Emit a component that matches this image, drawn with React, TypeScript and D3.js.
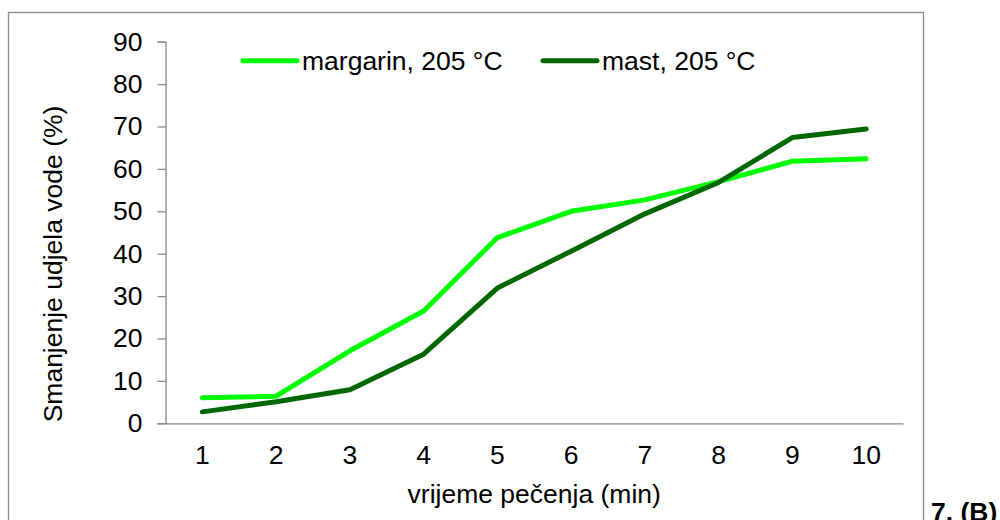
import React, { useEffect, useRef } from 'react';
import * as d3 from 'd3';

const minutes = ['1', '2', '3', '4', '5', '6', '7', '8', '9', '10'];
const margarin = [6.0, 6.4, 17.1, 26.5, 43.8, 50.0, 52.7, 57.0, 61.8, 62.4];
const mast = [2.7, 5.1, 7.9, 16.3, 31.9, 40.6, 49.4, 56.8, 67.4, 69.4];
const yTicks = [0, 10, 20, 30, 40, 50, 60, 70, 80, 90];

const series = [
  { name: 'margarin, 205 °C', values: margarin, color: '#00ff00' },
  { name: 'mast, 205 °C', values: mast, color: '#006600' },
];

const App: React.FC = () => {
  const svgRef = useRef<SVGSVGElement>(null);

  useEffect(() => {
    const svg = d3.select(svgRef.current);
    svg.selectAll('*').remove();

    const font = 'Arial, "Liberation Sans", sans-serif';
    const fs = '26.5px';
    const margin = { left: 165.5, right: 903, top: 41.7, bottom: 423.3 };

    // outer frame
    svg.append('rect')
      .attr('x', 8.5).attr('y', 12.5)
      .attr('width', 915).attr('height', 520)
      .attr('fill', 'none').attr('stroke', '#888').attr('stroke-width', 1.3);

    const x = d3.scaleBand().domain(minutes).range([margin.left, margin.right]);
    const y = d3.scaleLinear().domain([0, 90]).range([margin.bottom, margin.top]);

    // Y axis
    const yAxis = svg.append('g')
      .attr('transform', `translate(${margin.left},0)`)
      .call(d3.axisLeft(y).tickValues(yTicks).tickSize(8).tickPadding(15));
    yAxis.select('.domain').attr('stroke', '#888').attr('stroke-width', 1.3);
    yAxis.selectAll('.tick line').attr('stroke', '#888').attr('stroke-width', 1.3);
    yAxis.selectAll('.tick text')
      .attr('fill', '#000').style('font-family', font).style('font-size', fs);

    // X axis (no tick marks)
    const xAxis = svg.append('g')
      .attr('transform', `translate(0,${margin.bottom})`)
      .call(d3.axisBottom(x).tickSize(0).tickSizeOuter(0));
    xAxis.select('.domain').attr('stroke', '#888').attr('stroke-width', 1.3);
    xAxis.selectAll('.tick text')
      .attr('y', 0).attr('dy', 0)
      .attr('transform', 'translate(0,41)')
      .attr('fill', '#000').style('font-family', font).style('font-size', fs);

    // axis titles
    svg.append('text')
      .attr('x', (margin.left + margin.right) / 2)
      .attr('y', 503)
      .attr('text-anchor', 'middle')
      .style('font-family', font).style('font-size', fs)
      .text('vrijeme pečenja (min)');

    svg.append('text')
      .attr('transform', 'translate(61.5,264) rotate(-90)')
      .attr('text-anchor', 'middle')
      .style('font-family', font).style('font-size', fs)
      .text('Smanjenje udjela vode (%)');

    // lines
    const line = d3.line<number>()
      .x((_, i) => (x(minutes[i]) ?? 0) + x.bandwidth() / 2)
      .y(d => y(d));

    series.forEach(s => {
      svg.append('path')
        .datum(s.values)
        .attr('d', line)
        .attr('fill', 'none')
        .attr('stroke', s.color)
        .attr('stroke-width', 5)
        .attr('stroke-linecap', 'round')
        .attr('stroke-linejoin', 'round');
    });

    // legend
    const legendX = [243, 543];
    series.forEach((s, i) => {
      const g = svg.append('g').attr('transform', `translate(${legendX[i]},60.7)`);
      g.append('line')
        .attr('x1', 0).attr('x2', 54)
        .attr('stroke', s.color).attr('stroke-width', 5)
        .attr('stroke-linecap', 'round');
      g.append('text')
        .attr('x', 59).attr('y', 9.3)
        .style('font-family', font).style('font-size', fs)
        .text(s.name);
    });

    // panel label
    svg.append('text')
      .attr('x', 931).attr('y', 520.6)
      .style('font-family', font).style('font-size', fs).style('font-weight', 'bold')
      .text('7. (B)');
  }, []);

  return (
    <svg
      ref={svgRef}
      width={1000}
      height={520}
      style={{ position: 'absolute', left: 0, top: 0, background: '#fff' }}
    />
  );
};

export default App;
